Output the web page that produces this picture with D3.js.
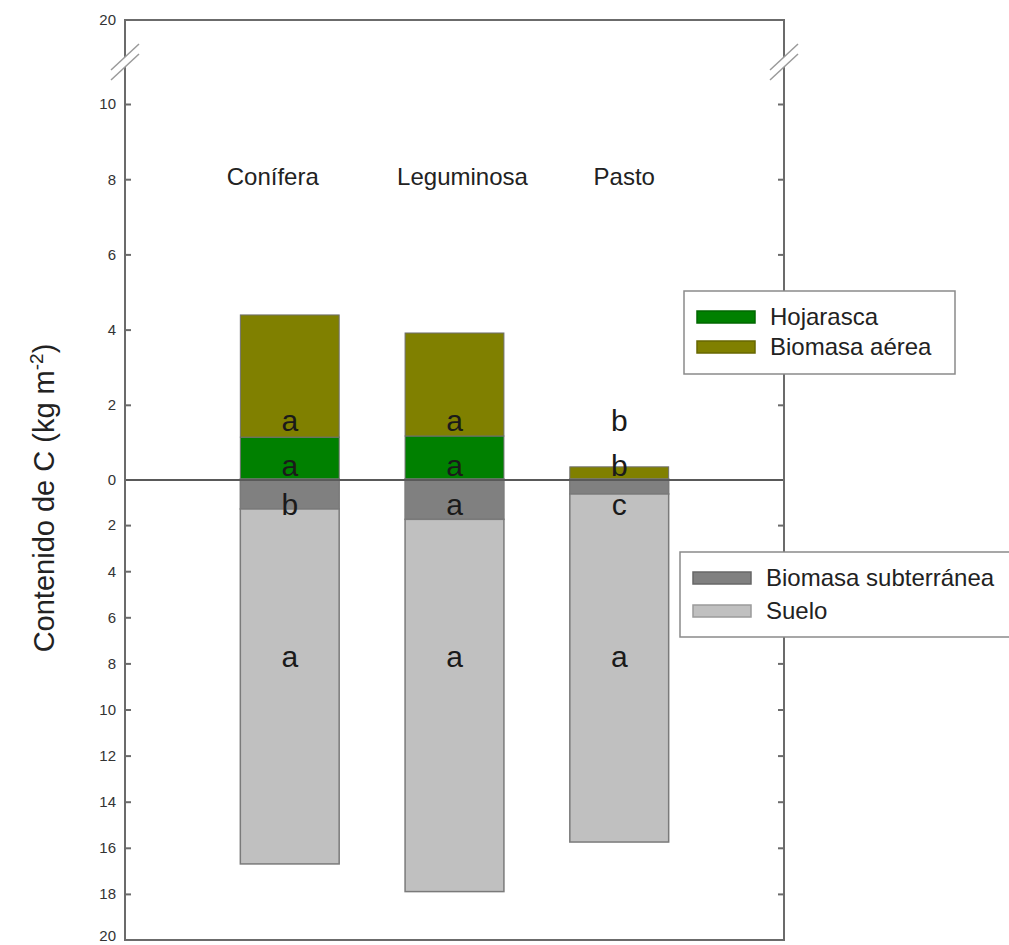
<!DOCTYPE html>
<html>
<head>
<meta charset="utf-8">
<script src="https://cdn.jsdelivr.net/npm/d3@7"></script>
<style>
  body { margin: 0; background: #fff; }
  svg { display: block; font-family: "Liberation Sans", Arial, sans-serif; }
</style>
</head>
<body>
<div id="chart"></div>
<script>
// categories and stacked components (kg C m-2)
const categories = ["Conífera", "Leguminosa", "Pasto"];
const hojarasca = [1.14, 1.17, 0.02];
const biomasaAerea = [3.25, 2.74, 0.33];
const biomasaSubterranea = [1.3, 1.75, 0.65];
const suelo = [15.4, 16.15, 15.1];

// significance letters per component
const letrasAerea = ["a", "a", "b"];
const letrasHojarasca = ["a", "a", "b"];
const letrasSubterranea = ["b", "a", "c"];
const letrasSuelo = ["a", "a", "a"];

// axis ticks
const upperTicks = [0, 2, 4, 6, 8, 10, 20];
const lowerTicks = [2, 4, 6, 8, 10, 12, 14, 16, 18, 20];

// colours
const cHoja = "#008000", cAerea = "#808000", cSub = "#808080", cSuelo = "#c0c0c0";
const axisCol = "#6b6b6b", textCol = "#222";

const width = 1009, height = 945;
const plotLeft = 125, plotRight = 784, plotTop = 20, plotBottom = 940;

const svg = d3.select("#chart").append("svg")
    .attr("width", width).attr("height", height);

// x scale
const x = d3.scaleBand().domain(categories)
    .range([plotLeft, plotRight]).paddingInner(0.4).paddingOuter(0.7);

// broken upper axis: 0-10 then compressed 10-20
const yUp = d3.scaleLinear().domain([0, 10, 20]).range([480, 104, plotTop]);
const yDown = d3.scaleLinear().domain([0, 20]).range([479, plotBottom]);

const rows = categories.map((c, i) => ({
    cat: c, hoja: hojarasca[i], aerea: biomasaAerea[i],
    sub: biomasaSubterranea[i], suelo: suelo[i]
}));

const upStack = d3.stack().keys(["hoja", "aerea"])(rows);
const downStack = d3.stack().keys(["sub", "suelo"])(rows);
const fillOf = { hoja: cHoja, aerea: cAerea, sub: cSub, suelo: cSuelo };

// upper bars
svg.append("g").selectAll("g").data(upStack).join("g")
    .attr("fill", d => fillOf[d.key])
    .selectAll("rect").data(d => d).join("rect")
    .attr("x", d => x(d.data.cat))
    .attr("width", x.bandwidth())
    .attr("y", d => yUp(d[1]))
    .attr("height", d => yUp(d[0]) - yUp(d[1]))
    .attr("stroke", "#6f6f6f").attr("stroke-width", 1);

// lower bars
svg.append("g").selectAll("g").data(downStack).join("g")
    .attr("fill", d => fillOf[d.key])
    .selectAll("rect").data(d => d).join("rect")
    .attr("x", d => x(d.data.cat))
    .attr("width", x.bandwidth())
    .attr("y", d => yDown(d[0]))
    .attr("height", d => yDown(d[1]) - yDown(d[0]))
    .attr("stroke", "#7a7a7a").attr("stroke-width", 1.5);

// zero line
svg.append("line")
    .attr("x1", plotLeft).attr("x2", plotRight)
    .attr("y1", yUp(0)).attr("y2", yUp(0))
    .attr("stroke", "#595959").attr("stroke-width", 2);

// frame: top and bottom borders, side axes
svg.append("line").attr("x1", plotLeft).attr("x2", plotRight).attr("y1", plotTop).attr("y2", plotTop)
    .attr("stroke", axisCol).attr("stroke-width", 2);
svg.append("line").attr("x1", plotLeft).attr("x2", plotRight).attr("y1", plotBottom).attr("y2", plotBottom)
    .attr("stroke", axisCol).attr("stroke-width", 2);
[plotLeft, plotRight].forEach(xx => {
    svg.append("line").attr("x1", xx).attr("x2", xx).attr("y1", plotTop - 1).attr("y2", plotBottom + 1)
        .attr("stroke", axisCol).attr("stroke-width", 2);
});

function styleAxis(g) {
    g.select(".domain").remove();
    g.selectAll(".tick line").attr("stroke", axisCol).attr("stroke-width", 2);
    g.selectAll(".tick text").attr("fill", "#333").style("font-size", "15px")
        .style("font-family", "'Liberation Sans', Arial, sans-serif");
}

// left axes
svg.append("g").attr("transform", `translate(${plotLeft},0)`)
    .call(d3.axisLeft(yUp).tickValues(upperTicks).tickSize(-6).tickPadding(9))
    .call(styleAxis)
    .call(g => g.selectAll(".tick").filter(d => d === 20 || d === 0).select("line").remove());
svg.append("g").attr("transform", `translate(${plotLeft},0)`)
    .call(d3.axisLeft(yDown).tickValues(lowerTicks).tickSize(-6).tickPadding(9))
    .call(styleAxis)
    .call(g => {
        const last = g.selectAll(".tick").filter(d => d === 20);
        last.select("line").remove();
        last.select("text").attr("dy", "0.05em"); // keep the bottom label inside the page
    });

// right axes (ticks only)
svg.append("g").attr("transform", `translate(${plotRight},0)`)
    .call(d3.axisRight(yUp).tickValues(upperTicks.filter(d => d > 0 && d < 20)).tickSize(-6).tickFormat(""))
    .call(styleAxis);
svg.append("g").attr("transform", `translate(${plotRight},0)`)
    .call(d3.axisRight(yDown).tickValues(lowerTicks.filter(d => d < 20)).tickSize(-6).tickFormat(""))
    .call(styleAxis);

// axis break marks
const breakY = yUp(15);
[plotLeft, plotRight].forEach(xx => {
    svg.append("rect").attr("x", xx - 3).attr("y", breakY - 5).attr("width", 6).attr("height", 10)
        .attr("fill", "#fff");
    [-5, 5].forEach(off => {
        svg.append("line")
            .attr("x1", xx - 14).attr("y1", breakY + off + 13)
            .attr("x2", xx + 14).attr("y2", breakY + off - 13)
            .attr("stroke", "#9a9a9a").attr("stroke-width", 1.5);
    });
});

// category labels (hand-placed above bars in the original)
const labelNudge = [-17, 8, 5];
svg.append("g").selectAll("text").data(categories).join("text")
    .attr("x", (d, i) => x(d) + x.bandwidth() / 2 + labelNudge[i])
    .attr("y", 185)
    .attr("text-anchor", "middle")
    .attr("fill", textCol)
    .style("font-size", "24px")
    .text(d => d);

// significance letters
function letters(arr, yPos) {
    svg.append("g").selectAll("text").data(arr).join("text")
        .attr("x", (d, i) => x(categories[i]) + x.bandwidth() / 2)
        .attr("y", yPos)
        .attr("text-anchor", "middle")
        .attr("fill", "#1a1a1a")
        .style("font-size", "30px")
        .text(d => d);
}
letters(letrasAerea, yUp(1.3));
letters(letrasHojarasca, yUp(0.1));
letters(letrasSubterranea, yDown(1.55));
letters(letrasSuelo, yDown(8.15));

// y axis title
const yTitle = svg.append("text")
    .attr("transform", "translate(54,498) rotate(-90)")
    .attr("text-anchor", "middle")
    .attr("fill", textCol)
    .style("font-size", "29px");
yTitle.append("tspan").text("Contenido de C (kg m");
yTitle.append("tspan").attr("dy", -11).style("font-size", "19px").text("-2");
yTitle.append("tspan").attr("dy", 11).text(")");

// legends
function legend(x0, y0, w, h, items) {
    const g = svg.append("g").attr("transform", `translate(${x0},${y0})`);
    g.append("rect").attr("width", w).attr("height", h)
        .attr("fill", "#fff").attr("stroke", "#8a8a8a").attr("stroke-width", 1.5);
    items.forEach(it => {
        g.append("rect").attr("x", 13).attr("y", it.sy).attr("width", 58).attr("height", 12)
            .attr("fill", it.color).attr("stroke", d3.color(it.color).darker(0.6)).attr("stroke-width", 1.5);
        g.append("text").attr("x", 86).attr("y", it.sy + 14)
            .attr("fill", textCol).style("font-size", "24px").text(it.label);
    });
}
legend(684, 291, 271, 83, [
    { label: "Hojarasca", color: cHoja, sy: 20 },
    { label: "Biomasa aérea", color: cAerea, sy: 50 }
]);
legend(680, 552, 334, 85, [
    { label: "Biomasa subterránea", color: cSub, sy: 20 },
    { label: "Suelo", color: cSuelo, sy: 53 }
]);
</script>
</body>
</html>
